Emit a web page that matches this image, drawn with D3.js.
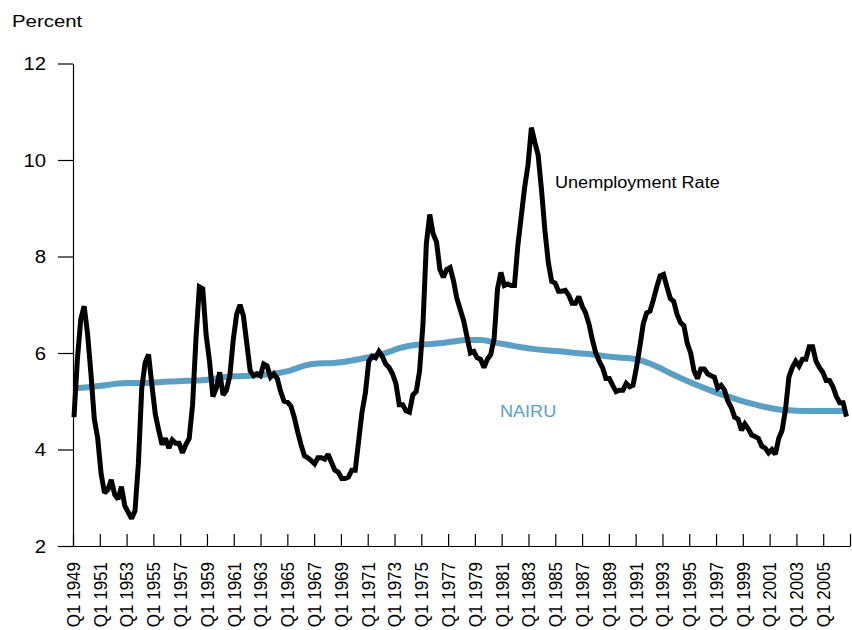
<!DOCTYPE html>
<html>
<head>
<meta charset="utf-8">
<script src="https://cdn.jsdelivr.net/npm/d3@7"></script>
<style>
  body { margin: 0; background: #fff; }
  text { font-family: "Liberation Sans", Arial, Helvetica, sans-serif; fill: #000; }
</style>
</head>
<body>
<div id="chart"></div>
<script>
// quarterly unemployment rate, Q1 1949 .. Q1 2006
var unemployment = [
    4.67, 5.87, 6.70, 6.97,  6.40, 5.57, 4.63, 4.23,  3.50, 3.10, 3.17, 3.37,  3.07, 2.97, 3.23, 2.83,
    2.70, 2.57, 2.73, 3.70,  5.27, 5.80, 5.97, 5.33,  4.73, 4.40, 4.10, 4.23,  4.03, 4.20, 4.13, 4.13,
    3.93, 4.10, 4.23, 4.93,  6.30, 7.37, 7.33, 6.37,  5.83, 5.10, 5.27, 5.60,  5.13, 5.23, 5.53, 6.27,
    6.80, 7.00, 6.77, 6.20,  5.63, 5.53, 5.57, 5.53,  5.77, 5.73, 5.50, 5.57,  5.47, 5.20, 5.00, 4.98,
    4.90, 4.67, 4.37, 4.10,  3.87, 3.83, 3.77, 3.70,  3.83, 3.83, 3.80, 3.90,  3.73, 3.57, 3.53, 3.40,
    3.40, 3.43, 3.57, 3.57,  4.17, 4.77, 5.17, 5.83,  5.93, 5.90, 6.03, 5.93,  5.77, 5.70, 5.57, 5.37,
    4.93, 4.93, 4.80, 4.77,  5.13, 5.20, 5.63, 6.60,  8.27, 8.87, 8.47, 8.30,  7.73, 7.57, 7.73, 7.77,
    7.50, 7.13, 6.90, 6.67,  6.33, 6.00, 6.03, 5.90,  5.87, 5.70, 5.87, 5.97,  6.30, 7.33, 7.67, 7.40,
    7.43, 7.40, 7.40, 8.23,  8.83, 9.43, 9.90, 10.67, 10.37, 10.10, 9.37, 8.53, 7.87, 7.48, 7.45, 7.28,
    7.28, 7.30, 7.20, 7.03,  7.03, 7.17, 6.97, 6.83,  6.60, 6.27, 6.00, 5.83,  5.70, 5.47, 5.47, 5.33,
    5.20, 5.23, 5.23, 5.37,  5.30, 5.33, 5.70, 6.13,  6.60, 6.83, 6.87, 7.10,  7.37, 7.60, 7.63, 7.37,
    7.13, 7.07, 6.80, 6.63,  6.57, 6.20, 6.00, 5.63,  5.47, 5.67, 5.67, 5.57,  5.53, 5.50, 5.27, 5.33,
    5.23, 5.00, 4.87, 4.67,  4.63, 4.40, 4.53, 4.43,  4.30, 4.27, 4.23, 4.07,  4.03, 3.93, 4.00, 3.90,
    4.23, 4.40, 4.83, 5.50,  5.70, 5.83, 5.73, 5.87,  5.87, 6.13, 6.13, 5.83,  5.70, 5.60, 5.43, 5.43,
    5.30, 5.10, 4.97, 4.97,  4.68
];

// NAIRU read at Q1 of each year, 1949 .. 2006
var nairu = [
    5.27, 5.29, 5.32, 5.36, 5.38, 5.38, 5.39, 5.41, 5.42, 5.43,
    5.45, 5.50, 5.52, 5.53, 5.55, 5.58, 5.64, 5.74, 5.78, 5.79,
    5.82, 5.87, 5.93, 6.00, 6.10, 6.16, 6.18, 6.20, 6.24, 6.27,
    6.27, 6.22, 6.17, 6.12, 6.08, 6.05, 6.03, 6.00, 5.98, 5.94,
    5.91, 5.89, 5.83, 5.72, 5.58, 5.45, 5.33, 5.22, 5.12, 5.03,
    4.95, 4.88, 4.83, 4.81, 4.80, 4.80, 4.80, 4.80
];

var xTickYears = d3.range(1949, 2008, 2);
var yTicks = [2, 4, 6, 8, 10, 12];

var width = 852,
    height = 630,
    stretch = 1.13; // the source lettering is a bit wide

var svg = d3.select("#chart")
    .append("svg")
    .attr("width", width)
    .attr("height", height);

// scales: data by quarter index, labels by year
var x = d3.scaleLinear()
    .domain([0, unemployment.length - 1])
    .range([74, 846.5]);

var xYear = d3.scaleLinear()
    .domain([1949, 2007])
    .range([73, 850]);

var y = d3.scaleLinear()
    .domain([2, 12])
    .range([546, 63.5]);

// X axis
var xAxis = svg.append("g")
    .attr("transform", "translate(0," + y(2) + ")")
    .call(d3.axisBottom(xYear)
        .tickValues(xTickYears)
        .tickSize(-12)
        .tickSizeOuter(0)
        .tickFormat(function(d) { return d <= 2005 ? "Q1 " + d : ""; }));

xAxis.select(".domain").attr("stroke", "#000").attr("stroke-width", 1.2);
xAxis.selectAll(".tick line").attr("stroke", "#000").attr("stroke-width", 1.2);
xAxis.selectAll(".tick text")
    .attr("y", 0)
    .attr("dy", null)
    .attr("transform", "translate(0,16) rotate(-90) scale(1," + stretch + ")")
    .attr("text-anchor", "end")
    .attr("dominant-baseline", "central")
    .style("font-size", "17px");

// Y axis
var yAxis = svg.append("g")
    .attr("transform", "translate(73,0)")
    .call(d3.axisLeft(y)
        .tickValues(yTicks)
        .tickSize(15)
        .tickSizeOuter(0));

yAxis.select(".domain").attr("stroke", "#000").attr("stroke-width", 1.2);
yAxis.selectAll(".tick line").attr("stroke", "#000").attr("stroke-width", 1.2);
yAxis.selectAll(".tick text")
    .attr("x", 0)
    .attr("dy", null)
    .attr("transform", "translate(-27,0) scale(" + stretch + ",1)")
    .attr("text-anchor", "end")
    .attr("dominant-baseline", "central")
    .style("font-size", "18px");

svg.append("text")
    .attr("transform", "translate(12,27) scale(1.2,1)")
    .style("font-size", "17px")
    .text("Percent");

// NAIRU line
var nairuLine = d3.line()
    .x(function(d, i) { return x(i * 4); })
    .y(function(d) { return y(d); })
    .curve(d3.curveMonotoneX);

svg.append("path")
    .datum(nairu)
    .attr("fill", "none")
    .attr("stroke", "#5a9fc4")
    .attr("stroke-width", 6)
    .attr("d", nairuLine);

// unemployment line
var urLine = d3.line()
    .x(function(d, i) { return x(i); })
    .y(function(d) { return y(d); });

svg.append("path")
    .datum(unemployment)
    .attr("fill", "none")
    .attr("stroke", "#000")
    .attr("stroke-width", 5)
    .attr("stroke-linejoin", "miter")
    .attr("stroke-miterlimit", 2)
    .attr("d", urLine);

// series labels
svg.append("text")
    .attr("transform", "translate(555,188) scale(" + stretch + ",1)")
    .style("font-size", "16px")
    .text("Unemployment Rate");

svg.append("text")
    .attr("transform", "translate(500,417) scale(" + stretch + ",1)")
    .style("font-size", "16px")
    .style("fill", "#5a9fc4")
    .text("NAIRU");
</script>
</body>
</html>
